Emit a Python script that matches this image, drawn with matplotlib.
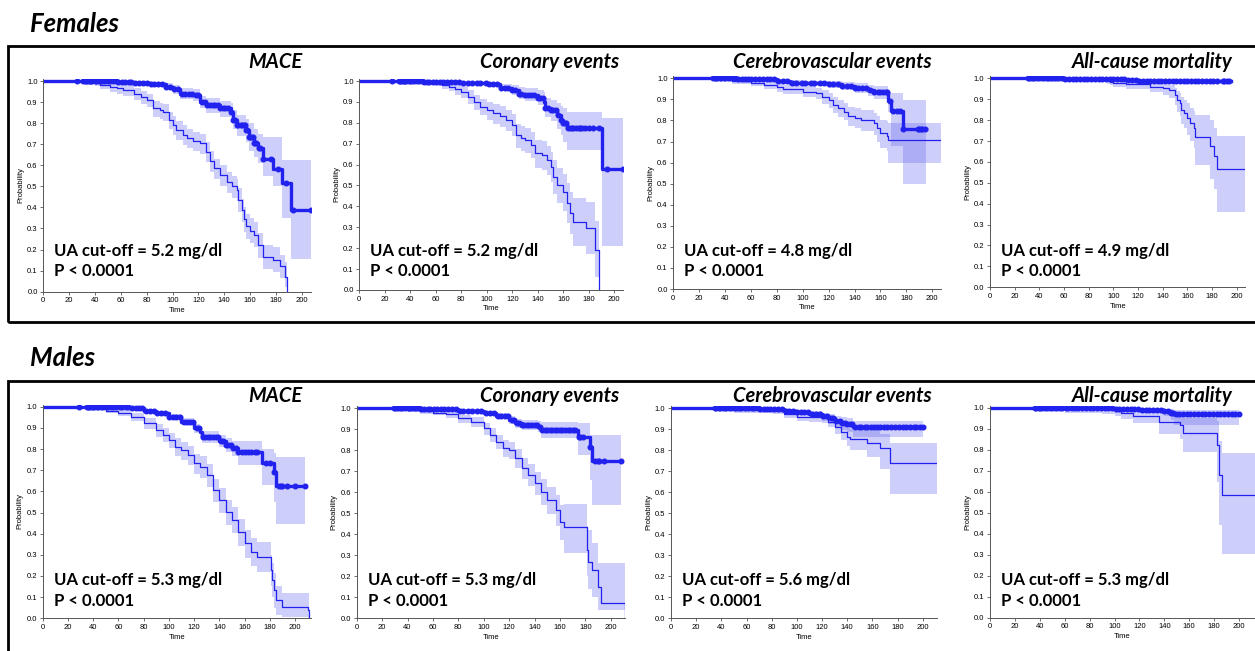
import numpy as np
import matplotlib
matplotlib.use('Agg')
import matplotlib.pyplot as plt
from matplotlib.patches import Rectangle

# ---------------- data ----------------
panel_titles = ['MACE', 'Coronary events', 'Cerebrovascular events', 'All-cause mortality']
f_cutoffs = ['5.2', '5.2', '4.8', '4.9']
m_cutoffs = ['5.3', '5.3', '5.6', '5.3']

# Females - MACE
f_mace_hi_t  = [0, 40, 44, 52, 57, 62, 70, 76, 80, 85, 90, 93, 97, 100, 103, 108, 111, 116, 121, 126, 129, 132, 137, 142, 146, 150, 151, 153.5, 155, 157, 160, 163, 166, 170, 178, 183, 187, 189]
f_mace_hi_s  = [1.0, 0.99, 0.98, 0.973, 0.965, 0.957, 0.94, 0.925, 0.91, 0.87, 0.86, 0.854, 0.815, 0.79, 0.767, 0.745, 0.728, 0.715, 0.704, 0.665, 0.62, 0.585, 0.554, 0.522, 0.50, 0.483, 0.435, 0.388, 0.345, 0.31, 0.29, 0.27, 0.22, 0.166, 0.15, 0.12, 0.07, 0.0]
f_mace_hi_lo = [1.0, 0.975, 0.96, 0.95, 0.94, 0.93, 0.91, 0.893, 0.875, 0.83, 0.818, 0.81, 0.77, 0.743, 0.72, 0.697, 0.68, 0.666, 0.655, 0.615, 0.57, 0.535, 0.50, 0.47, 0.447, 0.43, 0.38, 0.33, 0.285, 0.25, 0.23, 0.21, 0.16, 0.11, 0.095, 0.065, 0.02, 0.0]
f_mace_hi_up = [1.0, 1.0, 0.995, 0.99, 0.985, 0.98, 0.965, 0.953, 0.94, 0.905, 0.897, 0.89, 0.855, 0.833, 0.81, 0.79, 0.77, 0.76, 0.75, 0.71, 0.668, 0.63, 0.60, 0.57, 0.55, 0.535, 0.49, 0.44, 0.40, 0.37, 0.35, 0.33, 0.28, 0.22, 0.21, 0.175, 0.14, 0.0]
f_mace_lo_t  = [0, 40, 57, 70, 83, 95, 100, 106, 116, 121, 126, 137, 145, 147, 150, 157, 159, 163, 166, 170, 178, 184.5, 192, 207]
f_mace_lo_s  = [1.0, 0.998, 0.995, 0.99, 0.985, 0.973, 0.96, 0.94, 0.934, 0.90, 0.886, 0.87, 0.854, 0.815, 0.79, 0.767, 0.736, 0.704, 0.68, 0.63, 0.58, 0.517, 0.39, 0.39]
f_mace_lo_lo = [1.0, 0.995, 0.99, 0.98, 0.97, 0.955, 0.94, 0.915, 0.905, 0.87, 0.85, 0.83, 0.81, 0.77, 0.74, 0.71, 0.67, 0.64, 0.61, 0.55, 0.50, 0.35, 0.155, 0.155]
f_mace_lo_up = [1.0, 1.0, 1.0, 1.0, 0.995, 0.99, 0.98, 0.965, 0.96, 0.93, 0.92, 0.905, 0.895, 0.86, 0.84, 0.82, 0.80, 0.77, 0.75, 0.736, 0.736, 0.625, 0.625, 0.625]
f_mace_cens  = [26, 31, 32, 33, 34, 35, 36, 37, 38, 40, 41, 43, 45, 46, 48, 50, 52, 54, 56, 58, 61, 63, 66, 68, 71, 74, 77, 80, 83, 86, 89, 92, 95, 98, 101, 104, 107, 110, 113, 115, 118, 120, 123, 125, 127, 129, 131, 133, 135, 137, 139, 141, 143, 145, 147, 148, 150, 151, 153, 154, 155, 156, 157, 158, 159, 160, 161, 162, 163, 164, 165, 167, 168, 170, 176, 182, 188, 193, 207]

# Females - coronary events
f_cor_hi_t  = [0, 50, 60, 65, 70, 75, 80, 85, 90, 95, 100, 105, 110, 115, 120, 123, 127, 130, 135, 138, 143, 147, 150, 152, 155, 160, 163, 165, 168, 178, 185, 188]
f_cor_hi_s  = [1.0, 0.995, 0.99, 0.98, 0.973, 0.96, 0.949, 0.925, 0.90, 0.877, 0.861, 0.845, 0.833, 0.813, 0.79, 0.74, 0.728, 0.718, 0.694, 0.654, 0.646, 0.622, 0.59, 0.542, 0.50, 0.47, 0.415, 0.37, 0.327, 0.295, 0.19, 0.0]
f_cor_hi_lo = [1.0, 0.985, 0.975, 0.96, 0.95, 0.935, 0.92, 0.89, 0.86, 0.835, 0.815, 0.795, 0.78, 0.76, 0.735, 0.68, 0.667, 0.655, 0.63, 0.585, 0.575, 0.55, 0.515, 0.46, 0.415, 0.38, 0.32, 0.27, 0.21, 0.17, 0.06, 0.0]
f_cor_hi_up = [1.0, 1.0, 1.0, 0.995, 0.99, 0.982, 0.975, 0.955, 0.935, 0.915, 0.90, 0.89, 0.88, 0.86, 0.84, 0.795, 0.785, 0.775, 0.755, 0.72, 0.712, 0.69, 0.66, 0.62, 0.585, 0.555, 0.51, 0.47, 0.44, 0.42, 0.33, 0.0]
f_cor_lo_t  = [0, 50, 80, 100, 110, 120, 125, 130, 140, 145, 146, 150, 155, 158, 160, 163, 190, 207]
f_cor_lo_s  = [1.0, 0.997, 0.992, 0.984, 0.965, 0.957, 0.94, 0.933, 0.917, 0.90, 0.87, 0.861, 0.837, 0.813, 0.797, 0.774, 0.58, 0.58]
f_cor_lo_lo = [1.0, 0.993, 0.985, 0.97, 0.95, 0.935, 0.915, 0.905, 0.885, 0.86, 0.83, 0.81, 0.77, 0.74, 0.71, 0.67, 0.21, 0.21]
f_cor_lo_up = [1.0, 1.0, 0.998, 0.995, 0.985, 0.98, 0.97, 0.965, 0.955, 0.945, 0.92, 0.91, 0.895, 0.88, 0.87, 0.85, 0.825, 0.825]
f_cor_cens  = [26, 31, 32, 33, 34, 35, 36, 37, 39, 40, 41, 43, 45, 47, 49, 51, 53, 55, 58, 60, 63, 66, 69, 72, 75, 78, 81, 85, 88, 92, 95, 99, 102, 105, 108, 111, 114, 117, 120, 122, 125, 127, 130, 132, 135, 137, 140, 142, 144, 146, 148, 150, 152, 154, 156, 158, 160, 161, 162, 164, 165, 167, 168, 170, 172, 173, 175, 177, 180, 183, 188, 194, 207]

# Females - cerebrovascular events
f_cer_hi_t  = [0, 35, 45, 60, 70, 80, 85, 100, 110, 115, 120, 123, 127, 132, 135, 140, 145, 155, 157, 160, 165, 166, 207]
f_cer_hi_s  = [1.0, 0.995, 0.989, 0.98, 0.968, 0.957, 0.948, 0.937, 0.929, 0.913, 0.897, 0.873, 0.858, 0.842, 0.821, 0.813, 0.802, 0.786, 0.763, 0.739, 0.728, 0.707, 0.707]
f_cer_hi_lo = [1.0, 0.985, 0.975, 0.965, 0.95, 0.935, 0.925, 0.91, 0.90, 0.88, 0.86, 0.835, 0.815, 0.80, 0.775, 0.765, 0.75, 0.73, 0.70, 0.67, 0.655, 0.597, 0.597]
f_cer_hi_up = [1.0, 1.0, 0.998, 0.993, 0.985, 0.977, 0.97, 0.962, 0.955, 0.943, 0.93, 0.91, 0.898, 0.885, 0.865, 0.858, 0.85, 0.835, 0.82, 0.80, 0.795, 0.79, 0.79]
f_cer_lo_t  = [0, 50, 60, 80, 90, 100, 120, 130, 140, 150, 155, 166, 168, 177, 195]
f_cer_lo_s  = [1.0, 0.998, 0.995, 0.989, 0.98, 0.976, 0.971, 0.965, 0.956, 0.945, 0.934, 0.89, 0.845, 0.76, 0.76]
f_cer_lo_lo = [1.0, 0.995, 0.99, 0.982, 0.97, 0.962, 0.955, 0.945, 0.93, 0.915, 0.90, 0.84, 0.68, 0.50, 0.50]
f_cer_lo_up = [1.0, 1.0, 1.0, 0.996, 0.99, 0.988, 0.985, 0.982, 0.977, 0.97, 0.965, 0.935, 0.93, 0.895, 0.895]
f_cer_cens  = [31, 32, 33, 34, 36, 37, 39, 40, 42, 44, 46, 48, 50, 53, 55, 58, 60, 63, 66, 69, 72, 75, 78, 81, 85, 88, 92, 95, 99, 102, 106, 109, 113, 116, 120, 123, 127, 130, 134, 137, 140, 143, 146, 149, 152, 155, 158, 160, 162, 164, 165, 167, 170, 173, 175, 177, 189, 190, 191, 192, 194]

# Females - all-cause mortality
f_all_hi_t  = [0, 45, 95, 97, 100, 110, 130, 140, 145, 150, 152, 154, 155, 157, 160, 162, 165, 166, 178, 182, 184, 207]
f_all_hi_s  = [1.0, 1.0, 0.992, 0.984, 0.976, 0.971, 0.96, 0.952, 0.944, 0.92, 0.896, 0.88, 0.848, 0.832, 0.809, 0.785, 0.76, 0.72, 0.676, 0.628, 0.565, 0.565]
f_all_hi_lo = [1.0, 0.98, 0.975, 0.97, 0.96, 0.95, 0.935, 0.92, 0.905, 0.87, 0.84, 0.82, 0.78, 0.76, 0.73, 0.70, 0.665, 0.585, 0.52, 0.47, 0.36, 0.36]
f_all_hi_up = [1.0, 1.0, 1.0, 0.995, 0.99, 0.987, 0.98, 0.975, 0.97, 0.955, 0.94, 0.93, 0.91, 0.895, 0.88, 0.86, 0.845, 0.825, 0.80, 0.76, 0.725, 0.725]
f_all_lo_t  = [0, 60, 100, 110, 120, 150, 195]
f_all_lo_s  = [1.0, 0.999, 0.997, 0.992, 0.989, 0.988, 0.987]
f_all_lo_lo = [1.0, 0.997, 0.99, 0.983, 0.978, 0.975, 0.97]
f_all_lo_up = [1.0, 1.0, 1.0, 0.998, 0.996, 0.996, 0.996]
f_all_cens  = [31, 32, 33, 35, 36, 38, 40, 42, 44, 46, 48, 50, 53, 55, 58, 61, 64, 67, 70, 73, 76, 79, 82, 85, 88, 91, 94, 97, 100, 103, 106, 109, 112, 115, 118, 121, 124, 127, 130, 133, 136, 139, 142, 145, 148, 151, 154, 157, 160, 163, 166, 169, 172, 175, 178, 181, 184, 189, 190, 192, 194]

# Males - MACE
m_mace_hi_t  = [0, 35, 40, 50, 60, 70, 80, 90, 95, 100, 105, 110, 115, 120, 125, 130, 135, 140, 145, 150, 155, 160, 165, 170, 181, 182, 183, 185, 190, 210, 211]
m_mace_hi_s  = [1.0, 0.996, 0.992, 0.981, 0.972, 0.953, 0.921, 0.89, 0.868, 0.843, 0.811, 0.795, 0.772, 0.732, 0.717, 0.677, 0.606, 0.559, 0.504, 0.465, 0.409, 0.354, 0.315, 0.291, 0.228, 0.181, 0.134, 0.087, 0.055, 0.04, 0.0]
m_mace_hi_lo = [1.0, 0.991, 0.984, 0.969, 0.956, 0.931, 0.893, 0.857, 0.832, 0.803, 0.768, 0.75, 0.725, 0.682, 0.665, 0.622, 0.548, 0.499, 0.442, 0.401, 0.343, 0.287, 0.247, 0.221, 0.153, 0.101, 0.049, 0.017, 0.005, 0.0, 0.0]
m_mace_hi_up = [1.0, 1.0, 0.998, 0.99, 0.985, 0.972, 0.945, 0.918, 0.9, 0.878, 0.85, 0.835, 0.815, 0.778, 0.765, 0.727, 0.66, 0.615, 0.56, 0.525, 0.47, 0.415, 0.38, 0.36, 0.30, 0.26, 0.215, 0.155, 0.12, 0.12, 0.0]
m_mace_lo_t  = [0, 60, 70, 80, 90, 100, 110, 120, 125, 126, 140, 145, 150, 155, 174, 183, 185, 208]
m_mace_lo_s  = [1.0, 0.998, 0.995, 0.981, 0.969, 0.953, 0.929, 0.898, 0.882, 0.858, 0.838, 0.819, 0.803, 0.787, 0.732, 0.69, 0.625, 0.625]
m_mace_lo_lo = [1.0, 0.995, 0.99, 0.973, 0.958, 0.94, 0.912, 0.875, 0.857, 0.83, 0.808, 0.785, 0.765, 0.725, 0.63, 0.55, 0.445, 0.445]
m_mace_lo_up = [1.0, 1.0, 0.999, 0.99, 0.98, 0.967, 0.946, 0.92, 0.905, 0.885, 0.868, 0.853, 0.84, 0.84, 0.80, 0.78, 0.76, 0.76]
m_mace_cens  = [29, 35, 36, 37, 38, 40, 41, 43, 44, 46, 48, 50, 52, 54, 56, 58, 61, 63, 66, 68, 71, 74, 76, 79, 82, 85, 88, 91, 94, 97, 100, 103, 106, 109, 112, 114, 117, 119, 122, 124, 127, 129, 131, 133, 135, 137, 139, 141, 143, 145, 147, 149, 151, 153, 155, 158, 160, 163, 165, 168, 170, 177, 180, 183, 187, 189, 190, 194, 200, 208]

# Males - coronary events
m_cor_hi_t  = [0, 30, 40, 50, 60, 70, 80, 90, 100, 105, 110, 115, 120, 125, 130, 135, 140, 145, 150, 157, 160, 163, 181, 182, 185, 190, 192, 210, 211]
m_cor_hi_s  = [1.0, 0.996, 0.992, 0.987, 0.98, 0.973, 0.952, 0.937, 0.905, 0.873, 0.841, 0.81, 0.80, 0.762, 0.714, 0.683, 0.643, 0.603, 0.563, 0.516, 0.46, 0.437, 0.325, 0.27, 0.23, 0.15, 0.075, 0.075, 0.0]
m_cor_hi_lo = [1.0, 0.99, 0.983, 0.975, 0.966, 0.956, 0.93, 0.912, 0.875, 0.84, 0.805, 0.77, 0.757, 0.715, 0.663, 0.628, 0.585, 0.54, 0.495, 0.44, 0.375, 0.31, 0.20, 0.14, 0.10, 0.04, 0.04, 0.04, 0.0]
m_cor_hi_up = [1.0, 1.0, 0.998, 0.995, 0.99, 0.985, 0.97, 0.958, 0.932, 0.905, 0.875, 0.848, 0.84, 0.806, 0.762, 0.735, 0.698, 0.662, 0.627, 0.588, 0.54, 0.545, 0.44, 0.42, 0.36, 0.265, 0.265, 0.265, 0.0]
m_cor_lo_t  = [0, 50, 60, 80, 100, 110, 120, 125, 130, 143, 145, 174, 184, 185, 208]
m_cor_lo_s  = [1.0, 0.998, 0.995, 0.987, 0.976, 0.965, 0.944, 0.929, 0.92, 0.913, 0.897, 0.865, 0.815, 0.748, 0.748]
m_cor_lo_lo = [1.0, 0.995, 0.99, 0.978, 0.963, 0.95, 0.925, 0.907, 0.895, 0.885, 0.857, 0.78, 0.66, 0.54, 0.54]
m_cor_lo_up = [1.0, 1.0, 1.0, 0.995, 0.988, 0.98, 0.963, 0.95, 0.944, 0.94, 0.936, 0.93, 0.873, 0.873, 0.873]
m_cor_cens  = [29, 30, 32, 33, 35, 36, 38, 40, 41, 43, 45, 47, 49, 51, 53, 56, 58, 61, 63, 66, 69, 72, 75, 78, 81, 84, 88, 91, 95, 98, 102, 105, 108, 111, 114, 117, 119, 122, 124, 126, 128, 130, 132, 134, 136, 138, 140, 142, 144, 146, 148, 150, 152, 154, 156, 158, 160, 162, 164, 166, 168, 170, 172, 175, 176, 178, 184, 188, 190, 191, 195, 208]

# Males - cerebrovascular events
m_cer_hi_t  = [0, 40, 50, 80, 90, 100, 110, 120, 125, 130, 135, 140, 142, 156, 166, 174, 211]
m_cer_hi_s  = [1.0, 0.996, 0.99, 0.987, 0.971, 0.96, 0.957, 0.952, 0.937, 0.913, 0.889, 0.865, 0.852, 0.837, 0.81, 0.738, 0.738]
m_cer_hi_lo = [1.0, 0.988, 0.98, 0.975, 0.955, 0.94, 0.935, 0.928, 0.91, 0.88, 0.85, 0.82, 0.80, 0.77, 0.71, 0.59, 0.59]
m_cer_hi_up = [1.0, 1.0, 0.998, 0.996, 0.986, 0.978, 0.976, 0.973, 0.962, 0.944, 0.926, 0.908, 0.90, 0.90, 0.88, 0.835, 0.835]
m_cer_lo_t  = [0, 70, 80, 90, 100, 110, 120, 125, 130, 135, 140, 145, 200]
m_cer_lo_s  = [1.0, 0.999, 0.995, 0.989, 0.981, 0.973, 0.963, 0.952, 0.941, 0.932, 0.924, 0.913, 0.913]
m_cer_lo_lo = [1.0, 0.995, 0.988, 0.978, 0.967, 0.955, 0.94, 0.925, 0.91, 0.897, 0.885, 0.862, 0.862]
m_cer_lo_up = [1.0, 1.0, 1.0, 0.997, 0.992, 0.987, 0.98, 0.972, 0.965, 0.958, 0.952, 0.94, 0.94]
m_cer_cens  = [35, 36, 38, 39, 41, 43, 44, 46, 48, 50, 52, 54, 56, 59, 61, 64, 66, 69, 71, 74, 76, 79, 82, 85, 88, 91, 94, 97, 100, 103, 106, 109, 112, 115, 118, 121, 124, 127, 129, 131, 134, 136, 138, 140, 142, 144, 146, 149, 151, 154, 156, 159, 161, 164, 166, 169, 172, 175, 178, 181, 184, 187, 190, 193, 195, 198, 200]

# Males - all-cause mortality
m_all_hi_t  = [0, 60, 90, 100, 105, 115, 136, 153, 155, 182, 184, 186, 215]
m_all_hi_s  = [1.0, 1.0, 0.995, 0.986, 0.973, 0.96, 0.933, 0.917, 0.878, 0.822, 0.68, 0.585, 0.585]
m_all_hi_lo = [1.0, 0.975, 0.97, 0.96, 0.945, 0.925, 0.876, 0.85, 0.79, 0.645, 0.44, 0.305, 0.305]
m_all_hi_up = [1.0, 1.0, 1.0, 0.998, 0.992, 0.985, 0.975, 0.965, 0.95, 0.935, 0.84, 0.785, 0.785]
m_all_lo_t  = [0, 70, 100, 120, 140, 145, 148, 200]
m_all_lo_s  = [1.0, 0.998, 0.992, 0.989, 0.984, 0.976, 0.968, 0.968]
m_all_lo_lo = [1.0, 0.993, 0.982, 0.975, 0.96, 0.94, 0.92, 0.92]
m_all_lo_up = [1.0, 1.0, 0.999, 0.998, 0.996, 0.993, 0.99, 0.99]
m_all_cens  = [36, 37, 39, 40, 42, 44, 46, 48, 50, 52, 54, 56, 58, 61, 63, 66, 68, 71, 74, 77, 80, 83, 86, 89, 92, 95, 98, 101, 104, 107, 110, 113, 116, 119, 122, 125, 128, 131, 134, 137, 140, 143, 145, 147, 149, 152, 155, 158, 161, 164, 167, 170, 173, 176, 179, 182, 185, 188, 191, 194, 197, 200]

# ---------------- layout (pixels in the 1255x651 canvas) ----------------
W, H = 1255, 651
LINE = '#2222ee'
BAND = '#6c6cf0'
FONT = 'Lato'

# x of t=0, px per time unit, y of p=1.0, y of p=0.0, xmax
f_layout = [(43.3, 1.292, 81, 291.7, 207), (359.3, 1.275, 81, 290, 207),
            (673.3, 1.295, 78.3, 289, 207), (990, 1.2335, 78.3, 287.3, 207)]
m_layout = [(42.7, 1.2615, 406.7, 618.3, 213), (356.7, 1.27, 408.3, 618.3, 211),
            (671, 1.2585, 408.3, 618.3, 211), (990, 1.245, 407.7, 617.7, 213)]
title_right = [302, 619, 932, 1233]

fig = plt.figure(figsize=(W / 100, H / 100), dpi=100)


def px(x, y):
    return x / W, 1 - y / H


def step_at(t, s, c):
    idx = np.searchsorted(np.array(t), np.array(c), side='right') - 1
    return np.array(s)[idx]


def km_panel(lay, hi, lo, cens):
    x0, ppu, y1, y0, xmax = lay
    ytop = 1.01
    ppy = y0 - y1
    left, bottom = px(x0, y0)
    ax = fig.add_axes([left, bottom, xmax * ppu / W, ytop * ppy / H])
    for t, s, l, u in (hi, lo):
        ax.fill_between(t, l, u, step='post', color=BAND, alpha=0.33, lw=0)
    ax.step(hi[0], hi[1], where='post', color=LINE, lw=0.9)
    ax.step(lo[0], lo[1], where='post', color=LINE, lw=2.4)
    ax.plot(cens, step_at(lo[0], lo[1], cens), 'o', ms=3.3, color=LINE)
    ax.set_xlim(0, xmax)
    ax.set_ylim(0, ytop)
    ax.set_xticks(np.arange(0, 201, 20))
    ax.set_yticks(np.arange(0, 1.01, 0.1))
    ax.set_yticklabels([f'{v:.1f}' for v in np.arange(0, 1.01, 0.1)])
    for sp in ('top', 'right'):
        ax.spines[sp].set_visible(False)
    for sp in ('left', 'bottom'):
        ax.spines[sp].set_linewidth(0.7)
        ax.spines[sp].set_color('#555555')
    ax.tick_params(labelsize=5.5, length=2.5, width=0.6, color='#555555', pad=1.5)
    for lab in ax.get_xticklabels() + ax.get_yticklabels():
        lab.set_family('Liberation Sans')
    ax.set_xlabel('Time', fontsize=5.5, family='Liberation Sans', labelpad=2)
    ax.set_ylabel('Probability', fontsize=5.5, family='Liberation Sans', labelpad=2)
    ax.patch.set_alpha(0)
    return ax


rows = [
    ('Females', 24, 46, 322, f_layout, f_cutoffs, 62, 251, 271.5,
     [(f_mace_hi_t, f_mace_hi_s, f_mace_hi_lo, f_mace_hi_up),
      (f_cor_hi_t, f_cor_hi_s, f_cor_hi_lo, f_cor_hi_up),
      (f_cer_hi_t, f_cer_hi_s, f_cer_hi_lo, f_cer_hi_up),
      (f_all_hi_t, f_all_hi_s, f_all_hi_lo, f_all_hi_up)],
     [(f_mace_lo_t, f_mace_lo_s, f_mace_lo_lo, f_mace_lo_up),
      (f_cor_lo_t, f_cor_lo_s, f_cor_lo_lo, f_cor_lo_up),
      (f_cer_lo_t, f_cer_lo_s, f_cer_lo_lo, f_cer_lo_up),
      (f_all_lo_t, f_all_lo_s, f_all_lo_lo, f_all_lo_up)],
     [f_mace_cens, f_cor_cens, f_cer_cens, f_all_cens]),
    ('Males', 358, 381, 665, m_layout, m_cutoffs, 395.5, 580.5, 601,
     [(m_mace_hi_t, m_mace_hi_s, m_mace_hi_lo, m_mace_hi_up),
      (m_cor_hi_t, m_cor_hi_s, m_cor_hi_lo, m_cor_hi_up),
      (m_cer_hi_t, m_cer_hi_s, m_cer_hi_lo, m_cer_hi_up),
      (m_all_hi_t, m_all_hi_s, m_all_hi_lo, m_all_hi_up)],
     [(m_mace_lo_t, m_mace_lo_s, m_mace_lo_lo, m_mace_lo_up),
      (m_cor_lo_t, m_cor_lo_s, m_cor_lo_lo, m_cor_lo_up),
      (m_cer_lo_t, m_cer_lo_s, m_cer_lo_lo, m_cer_lo_up),
      (m_all_lo_t, m_all_lo_s, m_all_lo_lo, m_all_lo_up)],
     [m_mace_cens, m_cor_cens, m_cer_cens, m_all_cens]),
]

for (name, name_y, box_top, box_bot, layout, cutoffs, ttl_y, txt1_y, txt2_y,
     hi_curves, lo_curves, cens_lists) in rows:
    fig.text(*px(30, name_y), name, fontsize=18.5, fontweight='bold', style='italic',
             family=FONT, ha='left', va='center')
    bx, by = px(8, box_bot)
    fig.add_artist(Rectangle((bx, by), (1270 - 8) / W, (box_bot - box_top) / H,
                             transform=fig.transFigure, fill=False, lw=2,
                             edgecolor='black', clip_on=False))
    for i in range(4):
        lay = layout[i]
        km_panel(lay, hi_curves[i], lo_curves[i], cens_lists[i])
        fig.text(*px(title_right[i], ttl_y), panel_titles[i], fontsize=14.5,
                 fontweight='bold', style='italic', family=FONT, ha='right', va='center')
        fig.text(*px(lay[0] + 11, txt1_y), f'UA cut-off = {cutoffs[i]} mg/dl',
                 fontsize=12, fontweight='bold', family=FONT, ha='left', va='center')
        fig.text(*px(lay[0] + 11, txt2_y), 'P < 0.0001',
                 fontsize=12, fontweight='bold', family=FONT, ha='left', va='center')

fig.savefig('out.png', dpi=100)
